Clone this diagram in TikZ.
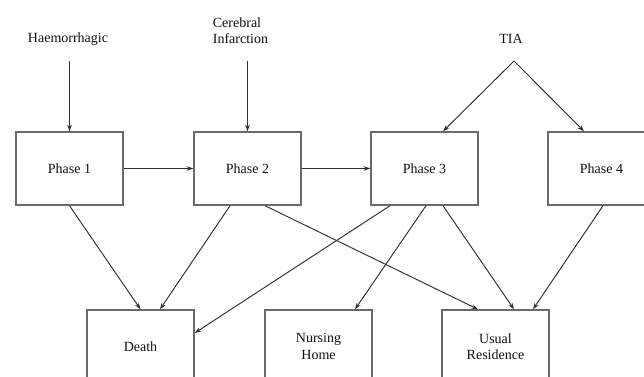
\documentclass[tikz,border=0pt]{standalone}
\usepackage{fontspec}
\setmainfont{Liberation Serif}
\usetikzlibrary{arrows.meta}
\definecolor{boxgray}{HTML}{6A6A6A}
\definecolor{arrgray}{HTML}{303030}
\definecolor{txt}{HTML}{111111}
\begin{document}
\begin{tikzpicture}[x=1pt,y=-1pt,
  font=\fontsize{14}{16.5}\selectfont, text=txt,
  stbox/.style={draw=boxgray, line width=1.4pt, minimum width=107pt, minimum height=73pt, inner sep=0pt, align=center},
  lbl/.style={inner sep=0pt, align=center},
  arr/.style={draw=arrgray, line width=0.95pt, -{Stealth[length=6.5pt,width=4.5pt]}}]
\useasboundingbox (0,0) rectangle (644,376);
\clip (0,0) rectangle (644,376);
\fill[white] (0,0) rectangle (644,376);

% top boxes
\node[stbox] (p1) at (69.5,168.5) {Phase 1};
\node[stbox] (p2) at (247.5,168.5) {Phase 2};
\node[stbox] (p3) at (424.5,168.5) {Phase 3};
\node[stbox] (p4) at (601.5,168.5) {Phase 4};
% bottom boxes
\node[stbox] (death) at (140.5,346.5) {Death};
\node[stbox] (nurse) at (318.5,346.5) {Nursing\\Home};
\node[stbox] (usual) at (495.5,346.5) {Usual\\Residence};

% sources
\node[lbl] (haem) at (68,39) {Haemorrhagic};
\node[lbl, align=left] (cereb) at (240.5,30.5) {Cerebral\\Infarction};
\node[lbl] (tia) at (511,39) {TIA};
\coordinate (haemA) at (69.5,61);
\coordinate (cerebA) at (247.5,61);
\coordinate (tiaA) at (514,61);

\draw[arr] (haemA) -- (p1.north);
\draw[arr] (cerebA) -- (p2.north);
\draw[arr] (tiaA) -- ([xshift=18.5pt]p3.north);
\draw[arr] (tiaA) -- ([xshift=-17.5pt]p4.north);

\draw[arr] (p1.east) -- (p2.west);
\draw[arr] (p2.east) -- (p3.west);

\draw[arr] (p1.south) -- (death.north);
\draw[arr] ([xshift=-17.5pt]p2.south) -- ([xshift=19.5pt]death.north);
\draw[arr] ([xshift=17.5pt]p2.south) -- ([xshift=-17.5pt]usual.north);
\draw[arr] ([xshift=-34.5pt]p3.south) -- ([yshift=13.5pt]death.east);
\draw[arr] ([xshift=1.5pt]p3.south) -- ([xshift=36.5pt]nurse.north);
\draw[arr] ([xshift=18.5pt]p3.south) -- ([xshift=18.5pt]usual.north);
\draw[arr] ([xshift=1.5pt]p4.south) -- ([xshift=37.5pt]usual.north);
\end{tikzpicture}
\end{document}
